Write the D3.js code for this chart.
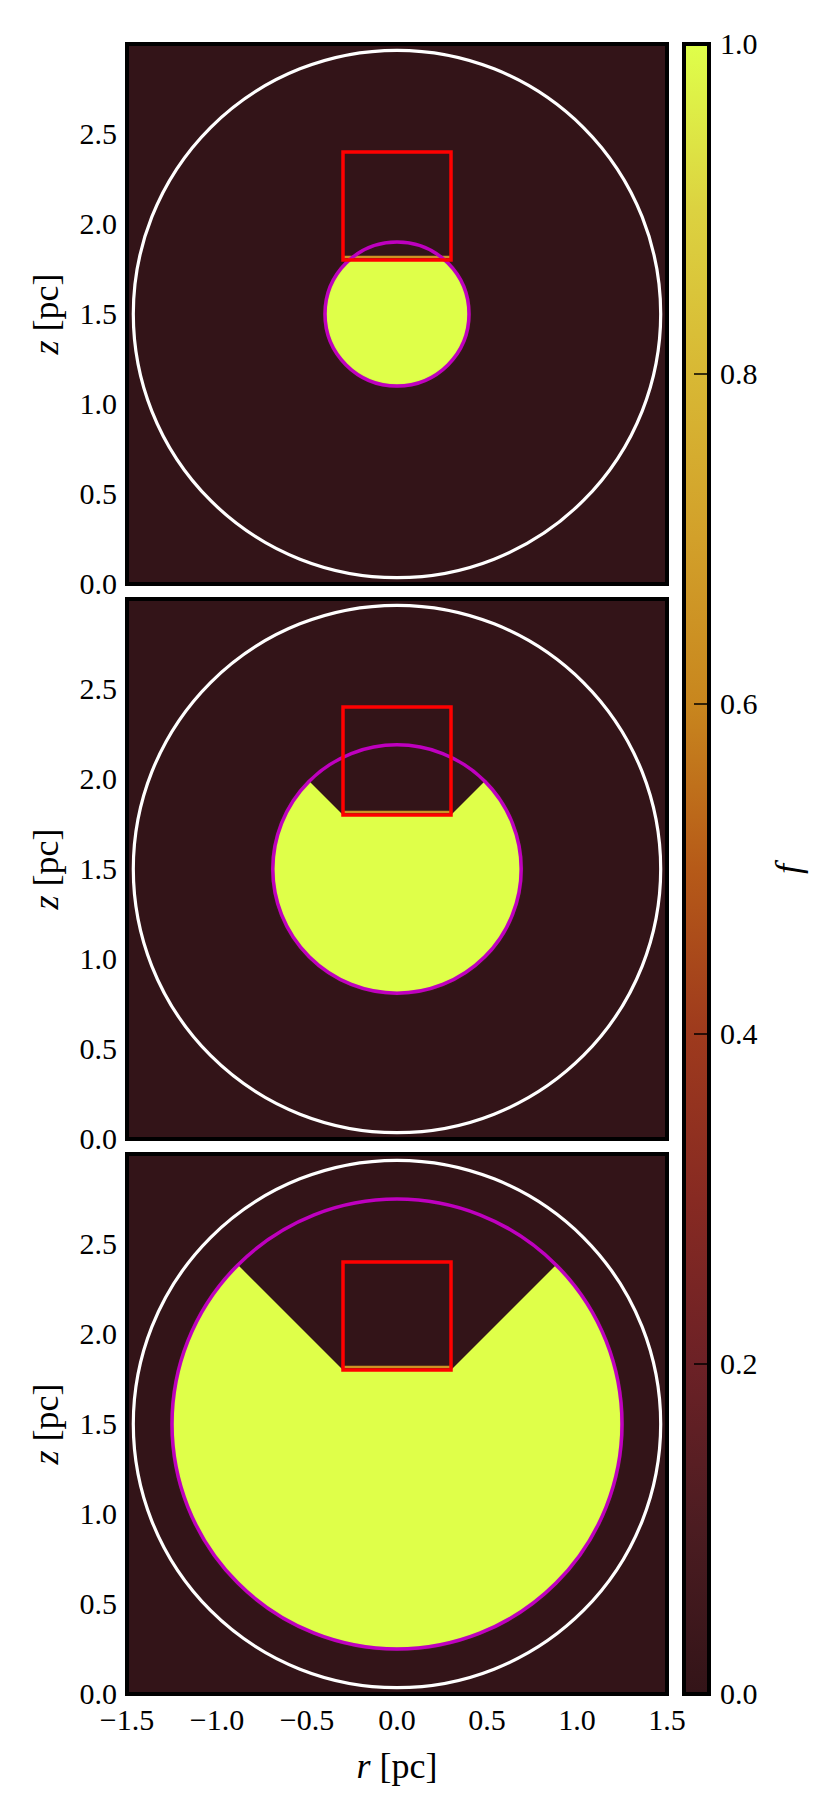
<!DOCTYPE html>
<html>
<head>
<meta charset="utf-8">
<script src="https://cdn.jsdelivr.net/npm/d3@7"></script>
<style>
  body { margin: 0; background: #fff; }
  svg text { font-family: "Liberation Serif", "DejaVu Serif", serif; }
</style>
</head>
<body>
<div id="chart"></div>
<script>
// data
var panelRadii = [0.4, 0.69, 1.25];      // magenta front radius per panel [pc]
var outerRadius = 1.465;                 // white circle [pc]
var centerR = 0, centerZ = 1.5;
var boxR = [-0.3, 0.3], boxZ = [1.8, 2.4];   // red box
var coneSlope = 1;                       // 45 degree cut above the box
var xTicks = [-1.5, -1.0, -0.5, 0.0, 0.5, 1.0, 1.5];
var yTicks = [0.0, 0.5, 1.0, 1.5, 2.0, 2.5];
var cbTicks = [0.0, 0.2, 0.4, 0.6, 0.8, 1.0];
var cmapStops = [0, 0.1, 0.2, 0.3, 0.4, 0.5, 0.6, 0.7, 0.8, 0.9, 1.0];
var cmapColors = ["#331418", "#4b1c21", "#6c2126", "#872a22", "#9e3a1d", "#b65a18",
                  "#c8861e", "#d2a02a", "#d8b834", "#dcd240", "#dfff4a"];

var W = 840, H = 1811;
var x0 = 127, pw = 540, ph = 540, gap = 15, top0 = 44;

var svg = d3.select("#chart")
  .append("svg")
    .attr("width", W)
    .attr("height", H);

var cmap = d3.scaleLinear().domain(cmapStops).range(cmapColors);

var x = d3.scaleLinear().domain([-1.5, 1.5]).range([0, pw]);
var y = d3.scaleLinear().domain([0, 3]).range([ph, 0]);
var fmt = d3.format(".1f");

var defs = svg.append("defs");
defs.append("filter").attr("id", "soft")
  .append("feGaussianBlur").attr("stdDeviation", 0.8);

// region below the V-shaped cut (kept for the filled material)
var cutPoly = [[-1.5, 0], [1.5, 0],
  [1.5, boxZ[0] + coneSlope * (1.5 - boxR[1])],
  [boxR[1], boxZ[0]], [boxR[0], boxZ[0]],
  [-1.5, boxZ[0] + coneSlope * (1.5 - boxR[1])]];

panelRadii.forEach(function(R, i) {
  var g = svg.append("g")
    .attr("transform", "translate(" + x0 + "," + (top0 + i * (ph + gap)) + ")");

  defs.append("clipPath").attr("id", "cut" + i)
    .append("polygon")
      .attr("points", cutPoly.map(function(p) { return x(p[0]) + "," + y(p[1]); }).join(" "));
  defs.append("clipPath").attr("id", "frame" + i)
    .append("rect").attr("width", pw).attr("height", ph);

  var inner = g.append("g").attr("clip-path", "url(#frame" + i + ")");

  inner.append("rect")
    .attr("width", pw).attr("height", ph)
    .attr("fill", cmap(0));

  // filled material f = 1
  inner.append("g").attr("clip-path", "url(#cut" + i + ")")
    .append("ellipse")
      .attr("cx", x(centerR)).attr("cy", y(centerZ))
      .attr("rx", x(R) - x(0)).attr("ry", y(0) - y(R))
      .attr("fill", cmap(1))
      .attr("filter", "url(#soft)");

  // thin partially filled strip under the box
  inner.append("line")
    .attr("x1", x(boxR[0])).attr("x2", x(boxR[1]))
    .attr("y1", y(boxZ[0]) - 3).attr("y2", y(boxZ[0]) - 3)
    .attr("stroke", cmap(0.65)).attr("stroke-width", 2.5);

  inner.append("ellipse")
    .attr("cx", x(centerR)).attr("cy", y(centerZ))
    .attr("rx", x(outerRadius) - x(0)).attr("ry", y(0) - y(outerRadius))
    .attr("fill", "none").attr("stroke", "#fff").attr("stroke-width", 3.2);

  inner.append("ellipse")
    .attr("cx", x(centerR)).attr("cy", y(centerZ))
    .attr("rx", x(R) - x(0)).attr("ry", y(0) - y(R))
    .attr("fill", "none").attr("stroke", "#bf00bf").attr("stroke-width", 3.5);

  inner.append("rect")
    .attr("x", x(boxR[0])).attr("y", y(boxZ[1]))
    .attr("width", x(boxR[1]) - x(boxR[0]))
    .attr("height", y(boxZ[0]) - y(boxZ[1]))
    .attr("fill", "none").attr("stroke", "#ff0000").attr("stroke-width", 3.5);

  g.append("rect")
    .attr("width", pw).attr("height", ph)
    .attr("fill", "none").attr("stroke", "#000").attr("stroke-width", 4);

  // y tick labels
  g.selectAll(".ytl")
    .data(yTicks)
    .enter()
    .append("text")
      .attr("x", -10)
      .attr("y", function(d) { return y(d) + 10; })
      .attr("text-anchor", "end")
      .style("font-size", "30px")
      .text(function(d) { return fmt(d); });

  var lab = g.append("text")
    .attr("transform", "translate(-69," + (ph / 2) + ")rotate(-90)")
    .attr("text-anchor", "middle")
    .style("font-size", "36px");
  lab.append("tspan").style("font-style", "italic").text("z");
  lab.append("tspan").text(" [pc]");

  if (i === panelRadii.length - 1) {
    g.selectAll(".xtl")
      .data(xTicks)
      .enter()
      .append("text")
        .attr("x", function(d) { return x(d); })
        .attr("y", ph + 36)
        .attr("text-anchor", "middle")
        .style("font-size", "30px")
        .text(function(d) { return fmt(d); });

    var xl = g.append("text")
      .attr("x", pw / 2)
      .attr("y", ph + 84)
      .attr("text-anchor", "middle")
      .style("font-size", "36px");
    xl.append("tspan").style("font-style", "italic").text("r");
    xl.append("tspan").text(" [pc]");
  }
});

// colorbar
var cbX = 684, cbW = 25, cbTop = top0, cbH = 3 * ph + 2 * gap;
var cy = d3.scaleLinear().domain([0, 1]).range([cbTop + cbH, cbTop]);

var grad = defs.append("linearGradient").attr("id", "cbgrad")
  .attr("x1", 0).attr("y1", 1).attr("x2", 0).attr("y2", 0);
grad.selectAll("stop")
  .data(cmapStops)
  .enter()
  .append("stop")
    .attr("offset", function(d) { return d; })
    .attr("stop-color", function(d) { return cmap(d); });

svg.append("rect")
  .attr("x", cbX).attr("y", cbTop)
  .attr("width", cbW).attr("height", cbH)
  .attr("fill", "url(#cbgrad)");

svg.selectAll(".cbtick")
  .data(cbTicks.slice(1, -1))
  .enter()
  .append("line")
    .attr("x1", cbX + cbW - 15).attr("x2", cbX + cbW)
    .attr("y1", function(d) { return cy(d); })
    .attr("y2", function(d) { return cy(d); })
    .attr("stroke", "#000").attr("stroke-width", 1.5);

svg.append("rect")
  .attr("x", cbX).attr("y", cbTop)
  .attr("width", cbW).attr("height", cbH)
  .attr("fill", "none").attr("stroke", "#000").attr("stroke-width", 4);

svg.selectAll(".cbl")
  .data(cbTicks)
  .enter()
  .append("text")
    .attr("x", cbX + cbW + 11)
    .attr("y", function(d) { return cy(d) + 10; })
    .style("font-size", "30px")
    .text(function(d) { return fmt(d); });

svg.append("text")
  .attr("transform", "translate(800," + (cbTop + cbH / 2) + ")rotate(-90)")
  .attr("text-anchor", "middle")
  .style("font-size", "36px")
  .style("font-style", "italic")
  .text("f");
</script>
</body>
</html>
